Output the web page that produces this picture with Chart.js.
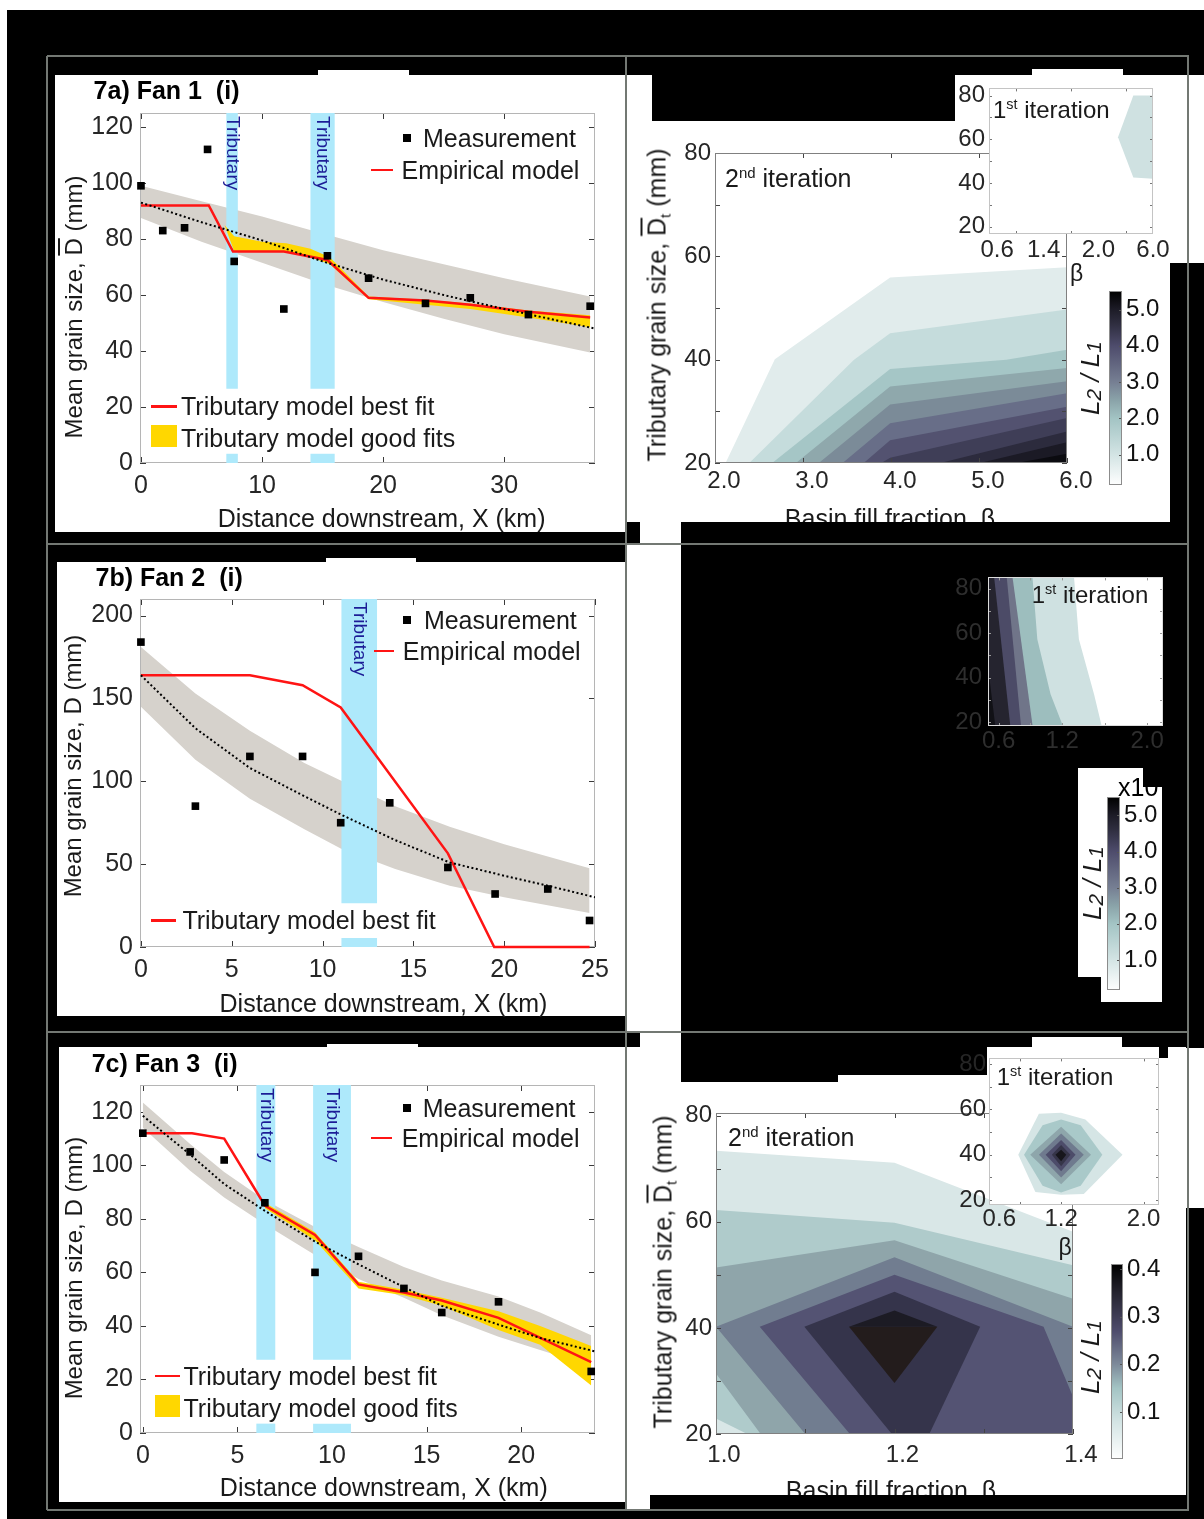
<!DOCTYPE html>
<html>
<head>
<meta charset="utf-8">
<title>Figure 7</title>
<script src="https://cdn.jsdelivr.net/npm/chart.js@4.4.0/dist/chart.umd.min.js"></script>
<style>
  html, body { margin: 0; padding: 0; }
  body { width: 1204px; height: 1519px; position: relative; overflow: hidden; background: #fff;
         font-family: "Liberation Sans", Arial, sans-serif; }
  .bx { position: absolute; }
  .tx { position: absolute; white-space: nowrap; line-height: 1; color: #1a1a1a; }
  .ob { text-decoration: overline; }
  .sb { font-size: 60%; position: relative; top: 0.3em; }
  .sp { font-size: 60%; position: relative; top: -0.6em; }
  .sb2 { font-size: 80%; position: relative; top: 0.12em; }
</style>
</head>
<body>
<script>
const FONT = '"Liberation Sans", Arial, sans-serif';
Chart.defaults.font.family = FONT;

// ---------- 7a) Fan 1 ----------
const fan1Meas = [[0,99],[1.8,83],[3.6,84],[5.5,112],[7.7,72],[11.8,55],[15.4,74],[18.8,66],[23.5,57],[27.2,59],[32,53],[37.1,56]];
const fan1Emp = [[0,93],[5,86],[10,79.5],[15,72],[20,65.5],[25,60],[30,55],[37.5,48]];
const fan1BandHi = [[0,99],[5,93.5],[10,88],[15,82],[20,76],[25,71],[30,66],[37.1,59.5]];
const fan1BandLo = [[0,87.5],[5,79],[10,71.5],[15,64],[20,57.5],[25,51.5],[30,46],[37.1,39.5]];
const fan1Best = [[0,92],[5.6,92],[7.6,75.5],[11.8,75.5],[15.4,72.5],[18.8,59],[23.5,58],[27.2,56.5],[32,54],[37.1,52]];
const fan1GoodHi = [[6.9,85],[7.7,81],[10,79],[12,78.5],[14,76.5],[15.6,73.5],[18.8,59.5],[23.5,58.3],[27.2,57],[32,54.5],[37.1,52.8]];
const fan1GoodLo = [[6.9,85],[7.7,75.5],[10,75.5],[12,75.3],[14,73.5],[15.6,71],[18.8,58.5],[23.5,56.5],[27.2,55],[32,52],[37.1,48.5]];
const fan1Trib = [[7.05,8.0],[14.0,16.0]];
const fan1TribY = [[26.5,125],[0,3.3]];
const fan1XTicks = [0,10,20,30];
const fan1YTicks = [0,20,40,60,80,100,120];

// ---------- 7b) Fan 2 ----------
const fan2Meas = [[0,184],[3,85],[6,115],[8.9,115],[11,75],[13.7,87],[16.9,48],[19.5,32],[22.4,35],[24.7,16]];
const fan2Emp = [[0,164],[3,132],[6,108],[9,91],[11,80],[14,64.5],[17,51],[20,43],[22.4,37],[25,30]];
const fan2BandHi = [[0,181],[3,153],[6,130.5],[9,111],[11,100.5],[14,85],[17,72.5],[20,62],[24.7,47.5]];
const fan2BandLo = [[0,145],[3,113],[6,89.5],[9,71],[11,59.5],[14,47],[17,37],[20,30],[24.7,20.5]];
const fan2Best = [[0,164],[6,164],[8.9,158],[11,144.5],[16.9,56.5],[19.45,0],[24.7,0]];
const fan2Trib = [[11.04,13.0]];
const fan2TribY = [[26.4,210],[0,5.4]];
const fan2XTicks = [0,5,10,15,20,25];
const fan2YTicks = [0,50,100,150,200];

// ---------- 7c) Fan 3 ----------
const fan3Meas = [[0,112],[2.5,105],[4.3,102],[6.45,86],[9.1,60],[11.4,66],[13.8,54],[15.8,45],[18.8,49],[23.7,23]];
const fan3Emp = [[0,118.5],[2.5,104],[4.3,93],[6.45,83],[9.1,71.5],[11.4,63],[13.8,54.5],[15.8,47.5],[18.8,40.5],[21,35.5],[23.9,30.5]];
const fan3BandHi = [[0,123.5],[2.5,108],[4.3,97.5],[6.45,87],[9.1,77],[11.4,69.5],[13.8,62],[15.8,57],[18.8,51],[21,45],[23.7,36.5]];
const fan3BandLo = [[0,114],[2.5,98],[4.3,88],[6.45,78],[9.1,66.5],[11.4,57.5],[13.8,50.5],[15.8,44],[18.8,36],[21,31],[23.7,25]];
const fan3Best = [[0,112],[2.6,112],[4.3,110],[6.45,85],[9.1,74],[11.4,55.5],[13.8,52.5],[15.8,49.5],[18.8,43],[23.7,26.5]];
const fan3GoodHi = [[6.45,86],[9.1,75],[11.4,56.5],[13.8,53.5],[15.8,50.5],[18.8,45.5],[21,40],[23.7,32.5]];
const fan3GoodLo = [[6.45,84],[9.1,72],[11.4,54],[13.8,51.5],[15.8,47.5],[18.8,38.5],[21,33],[23.7,17.7]];
const fan3Trib = [[6.0,7.0],[9.0,11.0]];
const fan3TribY = [[27.4,130],[0,3.5]];
const fan3XTicks = [0,5,10,15,20];
const fan3YTicks = [0,20,40,60,80,100,120];

// ---------- contour panels (level outlines, light -> dark) ----------
// fan 1, 2nd iteration: each outline runs from the bottom edge to the right edge
const fan1It2Lines = [
  [[2.12,20],[2.68,40.1],[3.99,55.9],[6,57.9]],
  [[2.39,20],[3.58,40],[3.99,45.1],[6,49.7]],
  [[2.65,20],[3.99,38.2],[5.31,40],[6,41.9]],
  [[2.92,20],[3.99,34.8],[6,38.4]],
  [[3.18,20],[3.99,31.3],[6,35.8]],
  [[3.45,20],[3.99,27.7],[6,33.5]],
  [[3.69,20],[3.99,24.4],[6,30.9]],
  [[3.89,20],[3.99,21],[6,28.7]],
  [[4.56,20],[6,26.1]],
  [[5.01,20],[6,24]],
  [[5.43,20],[6,21.8]]
];
const fan1It2Colors = ['#e1ecec','#c5dcdc','#a5c6c6','#8fa8ac','#7b8b98','#686e88','#535270','#3f3e57','#2c2b3d','#1b1a25','#0b0b10'];
const fan1It2XTicks = [2,3,4,5,6];
// fan 1, 1st iteration (x is the column index of the beta list)
const fan1It1Regions = [[[3,80],[2.64,80],[2.36,61],[2.64,42.5],[3,42]]];
const fan1It1Colors = ['#cfe1e1'];
const fan1It1XLabels = ['0.6','1.4','2.0','6.0'];
const fan1It1XPos = [0.15,1,2,3];

// fan 2, 1st iteration: outlines from top to bottom, region lies to their left
const fan2It1Lines = [
  [[1.31,86],[1.357,57.3],[1.50,32.5],[1.578,17]],
  [[0.918,86],[0.965,57.3],[1.09,32.5],[1.216,17]],
  [[0.729,86],[0.924,17]],
  [[0.675,86],[0.814,17]],
  [[0.556,86],[0.713,17]],
  [[0.5,45],[0.572,17]]
];
const fan2It1Colors = ['#cfe1e1','#9dbebe','#707589','#4c4b67','#25242f','#111116'];

// fan 3, 2nd iteration
const fan3It2Regions = [
  [[1.0,73.4],[1.2,71.1],[1.4,58.1],[1.4,20],[1.0,20]],
  [[1.0,62.2],[1.2,59.8],[1.4,51.8],[1.4,20],[1.035,20],[1.0,22.9]],
  [[1.0,51.4],[1.2,56.5],[1.4,45.5],[1.4,20],[1.05,20],[1.0,31.4]],
  [[1.0,40.2],[1.2,53.3],[1.4,40.2],[1.4,20],[1.1,20]],
  [[1.049,40.2],[1.2,50],[1.367,40.2],[1.4,27],[1.4,20],[1.15,20]],
  [[1.099,40.2],[1.2,46.8],[1.296,40.2],[1.239,20],[1.197,20]],
  [[1.149,40.2],[1.2,43.3],[1.248,40.2]],
  [[1.149,40.2],[1.248,40.2],[1.2,29.6]]
];
const fan3It2Colors = ['#d9e7e7','#afcbcb','#8fa5aa','#717d90','#545373','#35344b','#1c1b24','#231c1c'];
// fan 3, 1st iteration
const fan3It1Regions = [
  [[0.784,40],[0.984,58.1],[1.2,58.5],[1.435,55.5],[1.796,40],[1.42,22.6],[1.2,22.3],[0.95,23.5]],
  [[0.84,40],[1.02,53],[1.2,55.5],[1.39,53],[1.6,40],[1.39,26.3],[1.2,23.3],[1.02,26.3]],
  [[0.9,40],[1.2,52.3],[1.49,40],[1.2,27]],
  [[0.985,40],[1.2,49.4],[1.42,40],[1.2,29.9]],
  [[1.05,40],[1.2,46.5],[1.34,40],[1.2,32.7]],
  [[1.11,40],[1.2,44.3],[1.29,40],[1.2,34.9]],
  [[1.145,40],[1.2,42.2],[1.25,40],[1.2,37.1]]
];
const fan3It1Colors = ['#d5e5e5','#a9c9c9','#8ea6ab','#6f7a8e','#4d4c6a','#363549','#17161c'];

// colour bars
const cbTicks = [1,2,3,4,5];
const cbStops = [[0.15,'#ffffff'],[1.0,'#d3e4e4'],[2.0,'#a3c4c4'],[2.5,'#8aa3a9'],[3.0,'#767f93'],[4.0,'#4e4c6c'],[4.6,'#2f2e40'],[5.0,'#1d1c27'],[5.5,'#000000']];
const cb3Ticks = [0.1,0.2,0.3,0.4];
const cb3Stops = [[0,'#ffffff'],[0.08,'#d3e4e4'],[0.15,'#a3c4c4'],[0.2,'#7d8a9a'],[0.27,'#4e4c6c'],[0.35,'#25242f'],[0.41,'#000000']];

const RED = '#ff1414', GRAY = '#d6d2cc', YELLOW = '#ffd700', BLUE = '#aee9fb';

// ---------- page helpers ----------
function box(x1, y1, x2, y2, color, z) {
  const d = document.createElement('div');
  d.className = 'bx';
  d.style.cssText = `left:${x1}px;top:${y1}px;width:${x2 - x1}px;height:${y2 - y1}px;background:${color};z-index:${z || 1}`;
  document.body.appendChild(d);
}
function label(html, x, y, o = {}) {
  const d = document.createElement('div');
  d.className = 'tx';
  d.innerHTML = html;
  const ax = o.align === 'center' ? '-50%' : '0';
  d.style.cssText = `left:${x}px;top:${y}px;font-size:${o.size || 25}px;z-index:${o.z || 10};` +
    (o.bold ? 'font-weight:bold;' : '') + (o.color ? `color:${o.color};` : '') +
    `transform:translate(${o.rot ? '-50%' : ax},-50%)` + (o.rot ? ` rotate(${o.rot}deg)` : '');
  document.body.appendChild(d);
}

// axes box with inward ticks, optional white axes background
function drawBox(chart, o) {
  const {ctx, chartArea: a, scales} = chart;
  const len = o.len || 6;
  ctx.save();
  ctx.lineWidth = 1;
  ctx.strokeStyle = o.tick || '#3a3a3a';
  ctx.beginPath();
  (o.xt || []).forEach(v => {
    const p = Math.round(scales.x.getPixelForValue(v)) + 0.5;
    ctx.moveTo(p, a.bottom); ctx.lineTo(p, a.bottom - len);
    ctx.moveTo(p, a.top); ctx.lineTo(p, a.top + len);
  });
  (o.yt || []).forEach(v => {
    const p = Math.round(scales.y.getPixelForValue(v)) + 0.5;
    if (!o.rightOnly) { ctx.moveTo(a.left, p); ctx.lineTo(a.left + len, p); }
    ctx.moveTo(a.right, p); ctx.lineTo(a.right - len, p);
  });
  ctx.stroke();
  ctx.strokeStyle = o.edge || '#b5b5b5';
  ctx.strokeRect(Math.round(a.left) + 0.5, Math.round(a.top) + 0.5, Math.round(a.width) - 1, Math.round(a.height) - 1);
  ctx.restore();
}
const frame = {
  id: 'frame',
  beforeDatasetsDraw(chart, args, o) {
    if (o.bg) {
      const a = chart.chartArea, ctx = chart.ctx;
      ctx.save(); ctx.fillStyle = o.bg; ctx.fillRect(a.left, a.top, a.width, a.height); ctx.restore();
    }
    if (o.under) drawBox(chart, o);
  },
  afterDraw(chart, args, o) {
    if (!o.under) drawBox(chart, o);
  }
};

// rotated "Tributary" notes placed in data units
const notes = {
  id: 'notes',
  afterDatasetsDraw(chart, args, o) {
    const {ctx, scales} = chart;
    (o.items || []).forEach(n => {
      ctx.save();
      ctx.translate(scales.x.getPixelForValue(n.x), scales.y.getPixelForValue(n.y) + 3);
      ctx.rotate(Math.PI / 2);
      ctx.font = `19px ${FONT}`;
      ctx.fillStyle = '#1c1c96';
      ctx.textBaseline = 'middle';
      ctx.fillText(n.text, 0, 0);
      ctx.restore();
    });
  }
};

function lin(min, max, ticks, fit, o = {}) {
  return {
    type: 'linear', min, max, position: o.position,
    afterBuildTicks: s => { s.ticks = ticks.map(v => ({value: v})); },
    afterFit: s => { if (s.isHorizontal()) s.height = fit; else s.width = fit; },
    grid: {display: false, drawTicks: false},
    border: {display: false},
    ticks: {
      autoSkip: false, maxRotation: 0, minRotation: 0,
      padding: o.pad == null ? 6 : o.pad, labelOffset: o.off || 0,
      color: o.color || '#262626', font: {size: o.size || 25},
      callback: (v, i) => o.labels ? o.labels[i] : (o.dec != null ? Number(v).toFixed(o.dec) : String(v))
    }
  };
}

function makeChart(b, pads, z, cfg) {
  const [pl, pt, pr, pb] = pads;
  const cv = document.createElement('canvas');
  cv.width = b.W + pl + pr; cv.height = b.H + pt + pb;
  cv.style.cssText = `position:absolute;left:${b.L - pl}px;top:${b.T - pt}px;z-index:${z}`;
  document.body.appendChild(cv);
  const rightAxis = cfg.scales.y.position === 'right';
  const noX = cfg.scales.x.display === false;
  return new Chart(cv, {
    type: cfg.type || 'line',
    data: {labels: cfg.labels, datasets: cfg.datasets},
    plugins: [frame, notes],
    options: {
      responsive: false, animation: false, devicePixelRatio: 1, events: [],
      layout: {padding: {left: rightAxis ? pl : 0, top: pt, right: rightAxis ? 0 : pr, bottom: noX ? pb : 0}},
      scales: cfg.scales,
      plugins: Object.assign({legend: {display: false}, tooltip: {enabled: false}}, cfg.plugins)
    }
  });
}

const pts = a => a.map(([x, y]) => ({x, y}));
const poly = (a, color, order) => ({data: pts(a), fill: 'shape', backgroundColor: color, borderColor: color, borderWidth: 0, pointRadius: 0, order});

function fanChart(b, d) {
  const ds = [];
  ds.push({data: pts(d.meas), showLine: false, pointStyle: 'rect', pointRadius: 5.4, pointBackgroundColor: '#000', pointBorderWidth: 0, order: 0, clip: false});
  ds.push({data: pts(d.emp), borderColor: '#000', borderWidth: 2, borderDash: [2, 2.5], pointRadius: 0, fill: false, order: 1});
  ds.push({data: pts(d.best), borderColor: RED, borderWidth: 2.5, pointRadius: 0, fill: false, order: 2, clip: false});
  if (d.goodHi) {
    const k = ds.length;
    ds.push({data: pts(d.goodHi), borderWidth: 0, pointRadius: 0, fill: k + 1, backgroundColor: YELLOW, order: 3});
    ds.push({data: pts(d.goodLo), borderWidth: 0, pointRadius: 0, fill: false, order: 3.5});
  }
  d.trib.forEach(([x1, x2]) => d.tribY.forEach(([y1, y2]) => ds.push(poly([[x1, y1], [x2, y1], [x2, y2], [x1, y2]], BLUE, 4))));
  const k = ds.length;
  ds.push({data: pts(d.bandHi), borderWidth: 0, pointRadius: 0, fill: k + 1, backgroundColor: GRAY, order: 5});
  ds.push({data: pts(d.bandLo), borderWidth: 0, pointRadius: 0, fill: false, order: 6});
  return makeChart(b, [60, 20, 25, 45], 5, {
    datasets: ds,
    scales: {x: lin(d.xr[0], d.xr[1], d.xt, 45, {pad: 8}), y: lin(d.yr[0], d.yr[1], d.yt, 60, {pad: 7})},
    plugins: {
      frame: {xt: d.xt, yt: d.yt, under: true},
      notes: {items: d.trib.map(([x1, x2]) => ({x: (x1 + x2) / 2, y: d.yr[1], text: 'Tributary'}))}
    }
  });
}

function contourChart(b, pads, z, polys, colors, scales, frameOpts) {
  const ds = polys.map((p, i) => poly(p, colors[i], polys.length - i));
  return makeChart(b, pads, z, {datasets: ds, scales, plugins: {frame: frameOpts}});
}

function colorbar(b, z, min, max, ticks, stops) {
  const grad = c => {
    const ch = c.chart, y = ch.scales.y;
    if (!ch.chartArea || !y) return '#cccccc';
    const g = ch.ctx.createLinearGradient(0, y.getPixelForValue(min), 0, y.getPixelForValue(max));
    stops.forEach(([v, col]) => g.addColorStop(Math.min(1, Math.max(0, (v - min) / (max - min))), col));
    return g;
  };
  return makeChart(b, [0, 16, 50, 16], z, {
    type: 'bar', labels: ['cb'],
    datasets: [{data: [[min, max]], backgroundColor: grad, borderWidth: 0, barPercentage: 1, categoryPercentage: 1}],
    scales: {x: {type: 'category', display: false}, y: lin(min, max, ticks, 50, {position: 'right', pad: 4, size: 24, dec: 1, color: '#111'})},
    plugins: {frame: {yt: ticks, rightOnly: true, len: 3, edge: '#8c8c8c', tick: '#555'}}
  });
}

// ---------- backgrounds ----------
box(7, 10, 1204, 1519, '#000', 0);
// left panels
box(55, 75, 626, 532, '#fff', 1); box(318, 70, 409, 75, '#fff', 1);
box(57, 562, 626, 1016, '#fff', 1); box(326, 558, 416, 562, '#fff', 1);
box(59, 1047, 626, 1502, '#fff', 1); box(327, 1044, 418, 1047, '#fff', 1);
// top right
box(626, 75, 1170, 522, '#fff', 1); box(1170, 75, 1204, 263, '#fff', 1); box(1032, 69, 1123, 75, '#fff', 1);
box(652, 75, 955, 121, '#000', 2);
// middle right strip and colour bar backing
box(626, 544, 681, 1032, '#fff', 1); box(640, 522, 681, 1050, '#fff', 1);
box(1078, 768, 1143, 977, '#fff', 1); box(1101, 787, 1162, 1002, '#fff', 1);
// bottom right
box(626, 1047, 1186, 1495, '#fff', 1); box(1186, 1048, 1204, 1208, '#fff', 1); box(626, 1495, 650, 1510, '#fff', 1);
box(681, 1047, 838, 1082, '#000', 2); box(838, 1047, 987, 1075, '#000', 2);
box(1032, 1037, 1122, 1053, '#fff', 2); box(1159, 1047, 1168, 1058, '#000', 2);
// frame lines
const FR = '#737873';
box(47, 55, 1189, 57, FR, 3); box(47, 543, 1189, 545, FR, 3); box(47, 1031, 1189, 1033, FR, 3); box(47, 1509, 1189, 1511, FR, 3);
box(46, 56, 48, 1510, FR, 3); box(625, 56, 627, 1510, FR, 3); box(1187, 56, 1189, 1510, FR, 3);

// ---------- left column ----------
fanChart({L: 140, T: 111, W: 455, H: 352}, {meas: fan1Meas, emp: fan1Emp, best: fan1Best, goodHi: fan1GoodHi, goodLo: fan1GoodLo,
  bandHi: fan1BandHi, bandLo: fan1BandLo, trib: fan1Trib, tribY: fan1TribY, xr: [-0.08, 37.5], yr: [0, 125], xt: fan1XTicks, yt: fan1YTicks});
fanChart({L: 140, T: 597, W: 455, H: 350}, {meas: fan2Meas, emp: fan2Emp, best: fan2Best,
  bandHi: fan2BandHi, bandLo: fan2BandLo, trib: fan2Trib, tribY: fan2TribY, xr: [-0.05, 25], yr: [0, 210], xt: fan2XTicks, yt: fan2YTicks});
fanChart({L: 140, T: 1083, W: 455, H: 350}, {meas: fan3Meas, emp: fan3Emp, best: fan3Best, goodHi: fan3GoodHi, goodLo: fan3GoodLo,
  bandHi: fan3BandHi, bandLo: fan3BandLo, trib: fan3Trib, tribY: fan3TribY, xr: [-0.15, 23.9], yr: [0, 130], xt: fan3XTicks, yt: fan3YTicks});

// ---------- right column ----------
const yMarks = [20, 30, 40, 50, 60, 70, 80];
contourChart({L: 715, T: 153, W: 352, H: 310}, [60, 20, 25, 40], 5,
  fan1It2Lines.map(l => l.concat([[6, 20]])), fan1It2Colors,
  {x: lin(2, 6, fan1It2XTicks, 40, {pad: 4, size: 24, dec: 1, off: 9}), y: lin(20, 80, [20, 40, 60, 80], 60, {pad: 4, size: 24})},
  {xt: fan1It2XTicks, yt: yMarks, edge: '#808080', tick: '#444', len: 5});
contourChart({L: 989, T: 86, W: 164, H: 148}, [40, 16, 26, 30], 6, fan1It1Regions, fan1It1Colors,
  {x: lin(0, 3, fan1It1XPos, 30, {labels: fan1It1XLabels, size: 24, pad: 2}), y: lin(16.7, 83.3, [20, 40, 60, 80], 40, {size: 24, pad: 4})},
  {bg: '#fff', xt: [0.5, 1.5, 2.5], yt: yMarks, edge: '#c4c4c4', tick: '#777', len: 3});
colorbar({L: 1109, T: 289, W: 13, H: 199}, 6, 0.15, 5.5, cbTicks, cbStops);

contourChart({L: 988, T: 573, W: 175, H: 153}, [40, 16, 26, 30], 6,
  fan2It1Lines.map(l => l.concat([[0.5, 17], [0.5, 86]])), fan2It1Colors,
  {x: lin(0.5, 2.15, [0.6, 1.2, 2.0], 30, {size: 24, pad: 1, dec: 1, color: '#2e2e2e'}), y: lin(18.2, 85.1, [20, 40, 60, 80], 40, {size: 24, pad: 6, color: '#2e2e2e'})},
  {bg: '#fff', xt: [0.6, 0.9, 1.2, 1.6, 2.0], yt: yMarks, edge: '#dcdcdc', tick: '#999', len: 3});
colorbar({L: 1107, T: 795, W: 13, H: 198}, 6, 0.15, 5.5, cbTicks, cbStops);

contourChart({L: 716, T: 1113, W: 357, H: 321}, [60, 20, 25, 45], 5, fan3It2Regions, fan3It2Colors,
  {x: lin(1.0, 1.4, [1.0, 1.2, 1.4], 45, {pad: 7, size: 24, dec: 1, off: 8}), y: lin(20, 80.5, [20, 40, 60, 80], 60, {pad: 4, size: 24})},
  {xt: [1.0, 1.1, 1.2, 1.3, 1.4], yt: yMarks, edge: '#808080', tick: '#444', len: 5});
contourChart({L: 989, T: 1057, W: 170, H: 148}, [40, 16, 26, 30], 6, fan3It1Regions, fan3It1Colors,
  {x: lin(0.5, 2.15, [0.6, 1.2, 2.0], 30, {size: 24, pad: 0, dec: 1}), y: lin(17.8, 82.5, [20, 40, 60, 80], 40, {size: 24, pad: 3})},
  {bg: '#fff', xt: [0.8, 1.2, 2.0], yt: yMarks, edge: '#c4c4c4', tick: '#777', len: 3});
colorbar({L: 1111, T: 1262, W: 12, H: 200}, 6, 0, 0.41, cb3Ticks, cb3Stops);

// ---------- text ----------
const SQ = 8;
function legendTop(sqX, sqY, lineX1, lineX2, lineY, textX1, textX2) {
  box(sqX - SQ / 2, sqY - SQ / 2, sqX + SQ / 2, sqY + SQ / 2, '#000', 10);
  label('Measurement', textX1, sqY);
  box(lineX1, lineY - 1, lineX2, lineY + 1, RED, 10);
  label('Empirical model', textX2, lineY);
}
// 7a
label('7a) Fan 1&nbsp;&nbsp;(i)', 93.6, 90, {bold: true, color: '#000'});
legendTop(407, 138, 371, 393, 170, 423, 401.6);
box(151, 405, 177, 407.5, RED, 10); label('Tributary model best fit', 181, 406);
box(151, 425, 177, 447, YELLOW, 10); label('Tributary model good fits', 181, 437.7);
label('Mean grain size, <span class="ob">D</span> (mm)', 73.7, 306.7, {rot: -90, size: 24});
label('Distance downstream, X (km)', 381.6, 518, {align: 'center'});
// 7b
label('7b) Fan 2&nbsp;&nbsp;(i)', 95.5, 577.3, {bold: true, color: '#000'});
legendTop(407.4, 620, 373.7, 394, 651, 423.9, 402.8);
box(151, 919, 176, 921.5, RED, 10); label('Tributary model best fit', 182.4, 920);
label('Mean grain size, D (mm)', 72.5, 765.8, {rot: -90, size: 24});
label('Distance downstream, X (km)', 383.5, 1003.3, {align: 'center'});
// 7c
label('7c) Fan 3&nbsp;&nbsp;(i)', 91.7, 1063.3, {bold: true, color: '#000'});
legendTop(406.6, 1108.3, 371.4, 392, 1138.3, 422.7, 401.7);
box(154.8, 1374.5, 179.7, 1377, RED, 10); label('Tributary model best fit', 183.5, 1375.7);
box(154.8, 1395, 179.7, 1416.7, YELLOW, 10); label('Tributary model good fits', 183.5, 1407.7);
label('Mean grain size, D (mm)', 73.7, 1267.5, {rot: -90, size: 24});
label('Distance downstream, X (km)', 383.8, 1486.7, {align: 'center'});

// right column text
const ytl = 'Tributary grain size, <span class="ob">D</span><span class="sb">t</span> (mm)';
const l2l1 = '<i>L<span class="sb2">2</span> / L<span class="sb2">1</span></i>';
label('2<span class="sp">nd</span> iteration', 725, 178.3);
label('1<span class="sp">st</span> iteration', 993, 110, {size: 24});
label('β', 1076.7, 273, {align: 'center', size: 23});
label(ytl, 657.2, 305, {rot: -90});
label('Basin fill fraction, β', 890, 518.3, {align: 'center'});
label(l2l1, 1090, 378, {rot: -90, size: 26});

label('1<span class="sp">st</span> iteration', 1031.7, 595, {size: 24});
label('x10', 1118, 786.7, {color: '#000'});
label(l2l1, 1091.7, 883.3, {rot: -90, size: 26});

label('2<span class="sp">nd</span> iteration', 728, 1136.7);
label('1<span class="sp">st</span> iteration', 996.7, 1076.7, {size: 24});
label('β', 1065, 1246.7, {align: 'center', size: 23});
label(ytl, 662.8, 1271.7, {rot: -90});
label('Basin fill fraction, β', 891, 1490, {align: 'center'});
label(l2l1, 1090, 1356.7, {rot: -90, size: 26});

// black edges that cut the bottom axis titles on the right
box(681, 522, 1170, 543, '#000', 12);
box(650, 1495, 1186, 1509, '#000', 12);
</script>
</body>
</html>
